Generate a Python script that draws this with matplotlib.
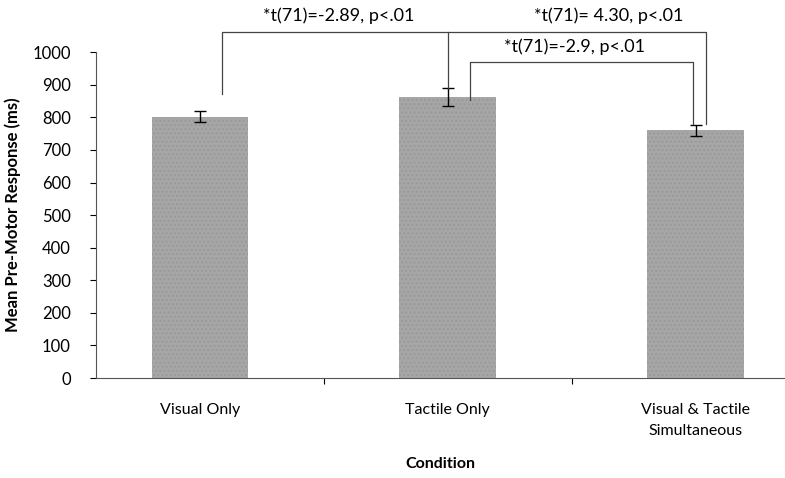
import matplotlib.pyplot as plt

conditions = ['Visual Only', 'Tactile Only', 'Visual & Tactile\nSimultaneous']
means = [802, 862, 760]
errors = [17, 27, 17]
yticks = [0, 100, 200, 300, 400, 500, 600, 700, 800, 900, 1000]

# significance brackets: x start, x end, top, left leg bottom, right leg bottom, label
brackets = [
    (0.09, 1.0, 1062, 870, 890, '*t(71)=-2.89, p<.01', 0.56, 1112),
    (1.0, 2.04, 1062, 1062, 778, '*t(71)= 4.30, p<.01', 1.65, 1112),
    (1.09, 1.99, 970, 853, 778, '*t(71)=-2.9, p<.01', 1.51, 1018),
]

plt.rcParams['font.family'] = ['Lato', 'DejaVu Sans']

fig = plt.figure(figsize=(7.85, 4.78), dpi=100)
ax = fig.add_axes([0.122, 0.209, 0.878, 0.682])

x = list(range(len(conditions)))
ax.bar(x, means, width=0.39, color='#a6a6a6', edgecolor='#999999', hatch='....', linewidth=0)
ax.errorbar(x, means, yerr=errors, fmt='none', ecolor='black', elinewidth=1, capsize=4, capthick=1)

for x0, x1, top, b0, b1, label, tx, ty in brackets:
    ax.plot([x0, x0, x1, x1], [b0, top, top, b1], color='#444444', lw=0.9, clip_on=False)
    ax.text(tx, ty, label, ha='center', va='center', fontsize=13, clip_on=False)

ax.set_xlim(-0.42, 2.36)
ax.set_ylim(0, 1000)
ax.set_yticks(yticks)
ax.set_xticks([0.5, 1.5])
ax.set_xticklabels([])
ax.set_xticks(x, minor=True)
ax.set_xticklabels(conditions, minor=True, fontsize=11.5, linespacing=1.6)
ax.tick_params(axis='x', which='minor', length=0, pad=18)
ax.tick_params(axis='x', which='major', length=4, direction='out')
ax.tick_params(axis='y', labelsize=12, length=4, direction='out', pad=14)
for s in ['top', 'right']:
    ax.spines[s].set_visible(False)
ax.spines['left'].set_color('#555555')
ax.spines['bottom'].set_color('#555555')

ax.set_ylabel('Mean Pre-Motor Response (ms)', fontsize=12, fontweight='bold', labelpad=8)
ax.set_xlabel('Condition', fontsize=11.5, fontweight='bold', labelpad=14)

fig.savefig('out.png', dpi=100)
